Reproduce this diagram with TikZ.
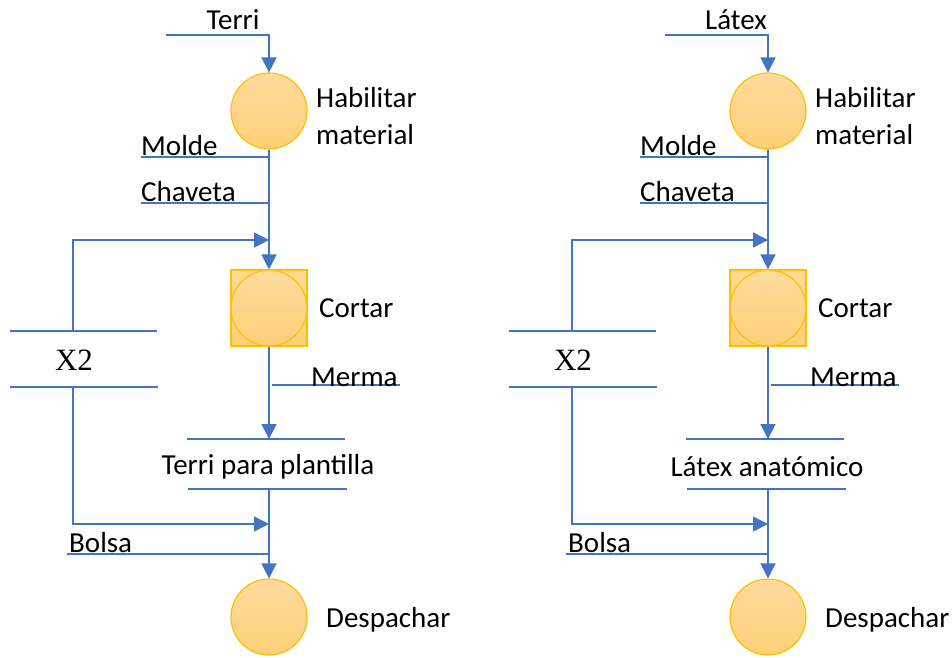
\documentclass[tikz,border=0pt]{standalone}
\usepackage{fontspec}
\setmainfont{Carlito}
\newfontfamily\timesface{Liberation Serif}
\usetikzlibrary{arrows.meta}

\definecolor{flowblue}{HTML}{4472C4}
\definecolor{goldedge}{HTML}{FFC000}
\definecolor{goldtop}{HTML}{FEDB9C}
\definecolor{goldbot}{HTML}{FDD078}

\tikzset{
  flow/.style={draw=flowblue, line width=1.5pt},
  arr/.style={flow, -{Triangle[length=15pt,width=15pt]}},
  op/.style={circle, draw=goldedge, line width=1.2pt, top color=goldtop,
             bottom color=goldbot, minimum size=76pt, inner sep=0pt},
  opbox/.style={rectangle, draw=goldedge, line width=1.2pt, top color=goldtop!90!goldbot,
             bottom color=goldbot, minimum size=76pt, inner sep=0pt},
  lbl/.style={font=\fontsize{29}{37}\selectfont, inner sep=0pt},
  mult/.style={font=\timesface\fontsize{31}{31}\selectfont, inner sep=0pt},
}

% One process column: #1 raw material, #2 x of its label, #3 product
\newcommand\flowcolumn[3]{%
  % raw material entering the first operation
  \coordinate (in) at (166,35);
  \coordinate (inc) at (269,35);
  \node[lbl] (inlbl) at (#2,20) {#1};
  \node[op] (hab) at (269,111) {};
  \node[lbl, anchor=west, align=left] (habl) at (316,116) {Habilitar\\material};
  \draw[arr] (in) -- (inc) -- (hab.north);
  % auxiliary inputs
  \coordinate (molde0) at (141,157);
  \coordinate (molde1) at (269,157);
  \node[lbl, anchor=base west] (moldel) at (141,155) {Molde};
  \coordinate (chav0) at (141,203);
  \coordinate (chav1) at (269,203);
  \node[lbl, anchor=base west] (chavl) at (141,201) {Chaveta};
  \draw[flow] (molde0) -- (molde1);
  \draw[flow] (chav0) -- (chav1);
  % combined operation-inspection
  \node[opbox] (cut) at (269,308) {};
  \node[op] (cutc) at (cut) {};
  \node[lbl, anchor=west] (cutl) at (319,308) {Cortar};
  \draw[arr] (hab.south) -- (cut.north);
  % repetition block
  \coordinate (xa0) at (10,331);
  \coordinate (xa1) at (157,331);
  \coordinate (xb0) at (10,387);
  \coordinate (xb1) at (158,387);
  \draw[flow] (xa0) -- (xa1);
  \draw[flow] (xb0) -- (xb1);
  \node[mult] (x2) at (74,360) {X2};
  \coordinate (x2top) at (73,331);
  \coordinate (loopin) at (269,240);
  \draw[arr] (x2top) |- (loopin);
  \coordinate (x2bot) at (73,387);
  \coordinate (bagin) at (269,524);
  \draw[arr] (x2bot) |- (bagin);
  % waste output
  \coordinate (merma0) at (272,385);
  \coordinate (merma1) at (400,385);
  \draw[flow] (merma0) -- (merma1);
  \node[lbl, anchor=base west] (mermal) at (311,386) {Merma};
  % intermediate product
  \coordinate (sta0) at (187,439);
  \coordinate (sta1) at (345,439);
  \coordinate (stb0) at (188,489);
  \coordinate (stb1) at (347,489);
  \coordinate (stin) at (269,439);
  \coordinate (stout) at (269,489);
  \draw[flow] (sta0) -- (sta1);
  \draw[flow] (stb0) -- (stb1);
  \node[lbl] (prod) at (268,467) {#3};
  \draw[arr] (cut.south) -- (stin);
  % packing and dispatch
  \coordinate (bolsa0) at (67,554);
  \coordinate (bolsa1) at (269,554);
  \draw[flow] (bolsa0) -- (bolsa1);
  \node[lbl, anchor=base west] (bolsal) at (69,552) {Bolsa};
  \node[op] (desp) at (269,617) {};
  \node[lbl, anchor=west] (despl) at (326,620) {Despachar};
  \draw[arr] (stout) -- (desp.north);
}

\begin{document}
\begin{tikzpicture}[x=1pt, y=-1pt]
  \useasboundingbox (0,0) rectangle (952,657);
  \begin{scope}[name prefix=l-]
    \flowcolumn{Terri}{233}{Terri para plantilla}
  \end{scope}
  \begin{scope}[xshift=499pt, name prefix=r-]
    \flowcolumn{Látex}{237}{Látex anatómico}
  \end{scope}
\end{tikzpicture}
\end{document}
